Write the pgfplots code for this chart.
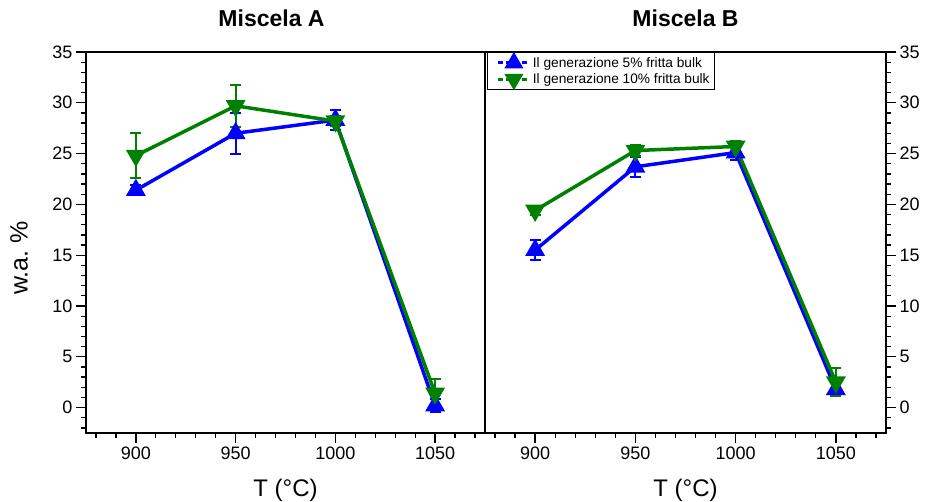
\documentclass[border=0pt]{standalone}
\usepackage{fontspec}
\setmainfont{Liberation Sans}
\usepackage{pgfplots}
\pgfplotsset{compat=1.18}

\definecolor{cblue}{RGB}{0,0,255}
\definecolor{cgreen}{RGB}{0,128,0}

\pgfplotstableread{
T    v     e
900  21.4  0.5
950  27.0  2.0
1000 28.3  1.0
1050 0.2   0.6
}\Ablue
\pgfplotstableread{
T    v     e
900  24.8  2.25
950  29.7  2.1
1000 28.2  0.5
1050 1.4   1.4
}\Agreen
\pgfplotstableread{
T    v     e
900  15.5  1.0
950  23.7  1.0
1000 25.1  0.7
1050 1.8   0.6
}\Bblue
\pgfplotstableread{
T    v     e
900  19.4  0.4
950  25.3  0.5
1000 25.7  0.5
1050 2.5   1.4
}\Bgreen

\pgfplotsset{
  common/.style={
    scale only axis, height=381pt,
    xmin=875, xmax=1075, ymin=-2.5, ymax=35,
    xtick={900,950,1000,1050}, minor xtick={880,890,...,1070},
    ytick={0,5,...,35}, minor ytick={-2,-1,...,34},
    tick align=outside,
    major tick length=10pt, minor tick length=5pt,
    major tick style={black, line width=1.3pt},
    minor tick style={black, line width=1.3pt},
    axis line style={line width=1.4pt},
    xtick pos=left,
    /pgf/number format/assume math mode=true,
    /pgf/number format/1000 sep={},
    tick label style={font=\fontsize{18}{20}\selectfont},
    xlabel={T (°C)},
    xlabel style={font=\fontsize{24}{28}\selectfont, at={(axis description cs:0.5,0)}, anchor=base, yshift=-64pt},
    title style={font=\bfseries\fontsize{23}{26}\selectfont, at={(axis description cs:0.5,1)}, anchor=base, yshift=19pt},
  },
  bl/.style={cblue, line width=3.5pt, mark=triangle*, mark size=8pt, mark options={solid},
    error bars/.cd, y dir=both, y explicit,
    error bar style={line width=2pt, solid},
    error mark options={rotate=90, line width=2pt, mark size=5.5pt}},
  gr/.style={cgreen, line width=3.5pt, mark=triangle*, mark size=8pt, mark options={solid, rotate=180},
    error bars/.cd, y dir=both, y explicit,
    error bar style={line width=2pt, solid},
    error mark options={rotate=90, line width=2pt, mark size=5.5pt}},
}

\begin{document}
\begin{tikzpicture}
\useasboundingbox (-86pt,-69pt) rectangle (840pt,433pt);
\begin{axis}[common, width=399pt, at={(0pt,0pt)}, anchor=south west,
  ytick pos=left,
  title={Miscela A}, title style={xshift=-14pt},
  ylabel={w.a.\ \%},
  ylabel style={font=\fontsize{25}{28}\selectfont, at={(axis description cs:-0.168,0.459)}, anchor=center},
]
\addplot[bl] table[x=T, y=v, y error=e] {\Ablue};
\addplot[gr] table[x=T, y=v, y error=e] {\Agreen};
\end{axis}
\begin{axis}[common, width=401pt, at={(399pt,0pt)}, anchor=south west,
  ytick pos=right, yticklabel pos=right,
  title={Miscela B},
  legend style={at={(axis description cs:0,1)}, anchor=north west, xshift=2pt,
    draw=black, line width=0.8pt, fill=white,
    font=\fontsize{13.7}{15}\selectfont, inner sep=2.5pt, row sep=1pt,
    cells={anchor=west}},
  legend image code/.code={\path (0pt,0pt); \draw[mark repeat=2, mark phase=2] plot coordinates {(7pt,0pt) (22.5pt,0pt) (38pt,0pt)};},
]
\addplot[forget plot, bl] table[x=T, y=v, y error=e] {\Bblue};
\addplot[forget plot, gr] table[x=T, y=v, y error=e] {\Bgreen};
\addlegendimage{cblue, line width=3pt, dash pattern=on 5pt off 3pt, mark=triangle*, mark size=8pt, mark options={solid}}
\addlegendentry{Il generazione 5\% fritta bulk}
\addlegendimage{cgreen, line width=3pt, dash pattern=on 5pt off 3pt, mark=triangle*, mark size=8pt, mark options={solid, rotate=180}}
\addlegendentry{Il generazione 10\% fritta bulk}
\end{axis}
\end{tikzpicture}
\end{document}
